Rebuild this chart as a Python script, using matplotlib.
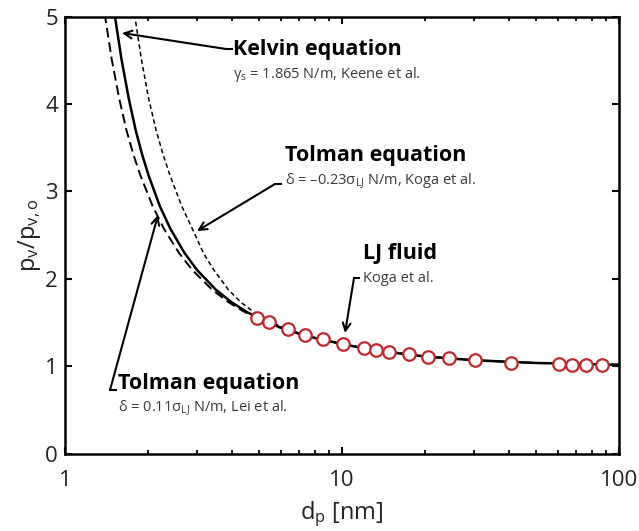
import numpy as np
import matplotlib
matplotlib.use('Agg')
import matplotlib.pyplot as plt

plt.rcParams['font.family'] = ['Open Sans', 'DejaVu Sans']
plt.rcParams['mathtext.fontset'] = 'custom'
plt.rcParams['mathtext.rm'] = 'Open Sans'
plt.rcParams['mathtext.it'] = 'Open Sans'

# LJ fluid data (Koga et al.)
lj_d = [4.95, 5.45, 6.40, 7.35, 8.52, 10.06, 12.03, 13.27, 14.83, 17.41,
        20.39, 24.33, 30.29, 40.6, 60.7, 67.8, 76.0, 86.6]
lj_p = [1.556, 1.503, 1.423, 1.362, 1.309, 1.255, 1.206, 1.187, 1.160, 1.137,
        1.110, 1.092, 1.069, 1.041, 1.023, 1.018, 1.015, 1.015]

# Kelvin equation (solid)
kel_d = [1.45, 1.5, 1.6, 1.7, 1.8, 1.9, 2.0, 2.2, 2.4, 2.7, 3.0, 3.5, 4.0,
         4.5, 5.0, 6.0, 7.0, 8.0, 10.0, 12.0, 15.0, 20.0, 30.0, 50.0, 100.0]
kel_p = [5.42, 5.09, 4.51, 4.06, 3.70, 3.42, 3.19, 2.832, 2.575, 2.297, 2.100,
         1.878, 1.731, 1.627, 1.550, 1.443, 1.373, 1.323, 1.255, 1.206, 1.160,
         1.112, 1.069, 1.038, 1.017]

# Tolman equation, delta = 0.11 sigma_LJ (long dash)
tl_d = [1.336, 1.382, 1.475, 1.570, 1.667, 1.767, 1.869, 2.072, 2.275, 2.579,
        2.885, 3.391, 3.902, 4.420, 4.941, 5.976, 7.0, 8.0, 10.0, 12.0, 15.0,
        20.0, 30.0, 50.0, 100.0]
tl_p = [5.42, 5.09, 4.51, 4.06, 3.70, 3.42, 3.19, 2.832, 2.575, 2.297, 2.100,
        1.878, 1.731, 1.627, 1.550, 1.443, 1.373, 1.323, 1.255, 1.206, 1.160,
        1.112, 1.069, 1.038, 1.017]

# Tolman equation, delta = -0.23 sigma_LJ (short dash)
th_d = [1.711, 1.770, 1.888, 2.006, 2.133, 2.261, 2.390, 2.640, 2.880, 3.159,
        3.450, 3.885, 4.320, 4.770, 5.200, 6.120, 7.070, 8.040, 10.0, 12.0,
        15.0, 20.0, 30.0, 50.0, 100.0]
th_p = [5.42, 5.09, 4.51, 4.06, 3.70, 3.42, 3.19, 2.832, 2.575, 2.297, 2.100,
        1.878, 1.731, 1.627, 1.550, 1.443, 1.373, 1.323, 1.255, 1.206, 1.160,
        1.112, 1.069, 1.038, 1.017]

fig = plt.figure(figsize=(6.39, 5.31), dpi=100)
ax = fig.add_axes([0.1017, 0.1456, 0.867, 0.823])

ax.plot(tl_d, tl_p, color='black', lw=1.4, ls=(0, (5, 2.5)))
ax.plot(th_d, th_p, color='black', lw=1.1, ls=(0, (3, 2)))
ax.plot(kel_d, kel_p, color='black', lw=1.8)
ax.plot(lj_d, lj_p, ls='none', marker='o', ms=9, mfc='white',
        mec='#c0282d', mew=1.6)

ax.set_xscale('log')
ax.set_xlim(1, 100)
ax.set_ylim(0, 5)
ax.set_xticks([1, 10, 100])
ax.set_xticklabels(['1', '10', '100'])
ax.set_yticks([0, 1, 2, 3, 4, 5])
ax.tick_params(which='both', direction='in', top=True, right=True,
               labelsize=16, colors='black', labelcolor='#222222')
ax.tick_params(axis='x', pad=12)
ax.tick_params(axis='y', pad=5)
ax.tick_params(which='major', length=5, width=1.5)
ax.tick_params(which='minor', length=3, width=1.3)
for s in ax.spines.values():
    s.set_linewidth(1.8)

ax.set_xlabel('d$_\\mathregular{p}$ [nm]', fontsize=17, color='#222222', labelpad=6)
ax.set_ylabel('p$_\\mathregular{v}$/p$_\\mathregular{v,o}$', fontsize=17,
              color='#222222', labelpad=2)

arrow = dict(arrowstyle='->', color='black', lw=1.5, shrinkA=0, shrinkB=0,
             mutation_scale=14)

def px2data(x, y):
    # pixel position (from top-left) to data coordinates
    disp = (x, 531 - y)
    return ax.transData.inverted().transform(disp)

def label(tx, ty, title, sub, knee, tip, hx):
    ax.text(*px2data(tx, ty), title, fontsize=15.5, fontweight='bold',
            ha='left', va='center')
    ax.text(*px2data(tx, ty + 25), sub, fontsize=10.5, color='#3a3a3a',
            ha='left', va='center')
    k = px2data(*knee)
    h = px2data(hx, knee[1])
    ax.plot([k[0], h[0]], [k[1], h[1]], color='black', lw=1.5)
    ax.annotate('', xy=px2data(*tip), xytext=k, arrowprops=arrow)

label(233, 50, 'Kelvin equation', 'γ$_\\mathregular{s}$ = 1.865 N/m, Keene et al.',
      (226, 49), (122, 33), 232)
label(285, 156, 'Tolman equation',
      'δ = –0.23σ$_\\mathregular{LJ}$ N/m, Koga et al.',
      (275, 184), (197, 231), 281)
label(363, 253, 'LJ fluid', 'Koga et al.', (354, 278), (345, 333), 359)
label(118, 383, 'Tolman equation', 'δ = 0.11σ$_\\mathregular{LJ}$ N/m, Lei et al.',
      (110, 390), (158, 215), 116)

fig.savefig('out.png', dpi=100)
